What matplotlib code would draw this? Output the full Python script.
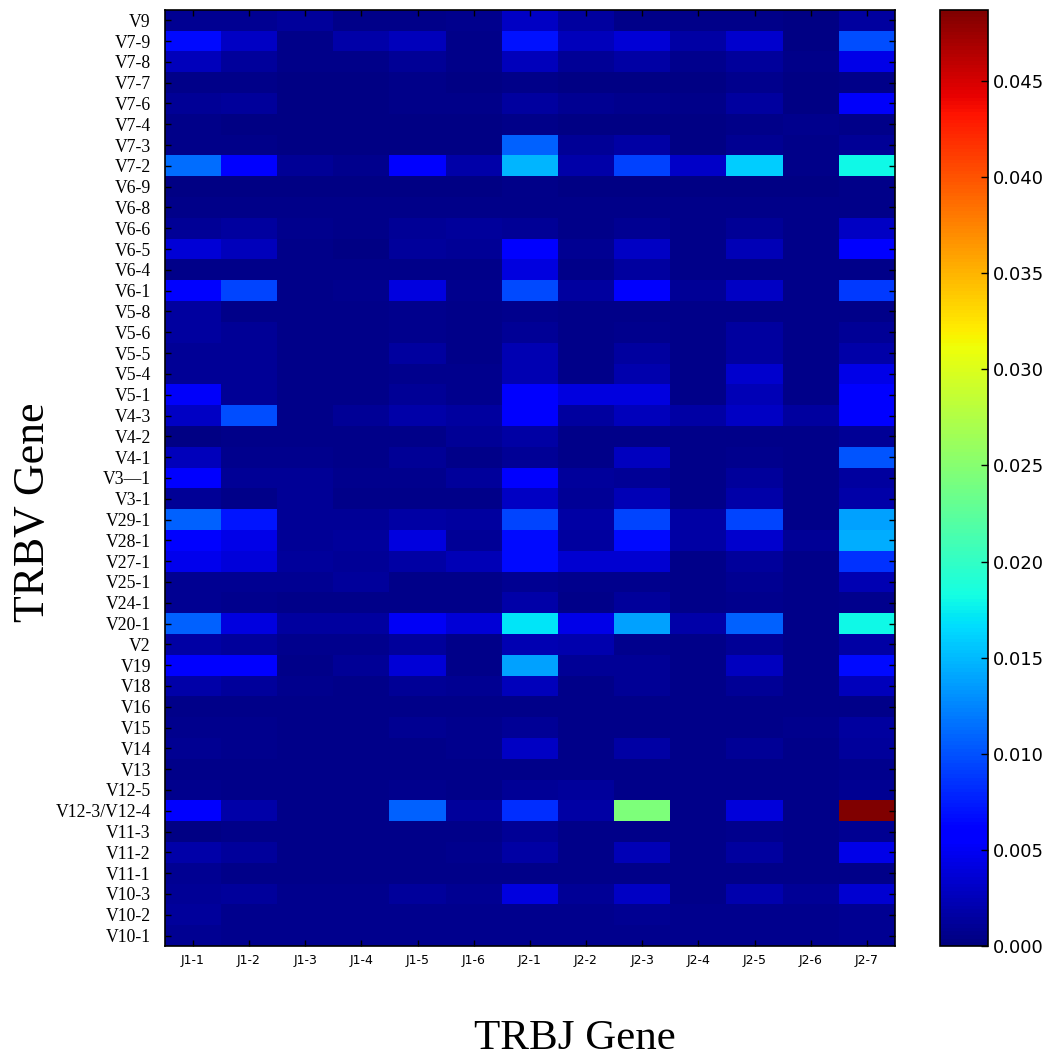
import numpy as np
import matplotlib
matplotlib.use("Agg")
import matplotlib.pyplot as plt

# TRBJ genes (columns) and TRBV genes (rows, top to bottom)
j_genes = ["J1-1", "J1-2", "J1-3", "J1-4", "J1-5", "J1-6",
           "J2-1", "J2-2", "J2-3", "J2-4", "J2-5", "J2-6", "J2-7"]

v_genes = ["V9", "V7-9", "V7-8", "V7-7", "V7-6", "V7-4", "V7-3", "V7-2",
           "V6-9", "V6-8", "V6-6", "V6-5", "V6-4", "V6-1", "V5-8", "V5-6",
           "V5-5", "V5-4", "V5-1", "V4-3", "V4-2", "V4-1", "V3\u20141", "V3-1",
           "V29-1", "V28-1", "V27-1", "V25-1", "V24-1", "V20-1", "V2", "V19",
           "V18", "V16", "V15", "V14", "V13", "V12-5", "V12-3/V12-4", "V11-3",
           "V11-2", "V11-1", "V10-3", "V10-2", "V10-1"]

# pairing frequency, one row per V gene, values
freq = [
    [0.0008, 0.0008, 0.0012, 0.0004, 0.0005, 0.0006, 0.0030, 0.0015, 0.0004, 0.0004, 0.0005, 0.0003, 0.0015],  # V9
    [0.0065, 0.0030, 0.0004, 0.0018, 0.0025, 0.0004, 0.0070, 0.0025, 0.0038, 0.0016, 0.0034, 0.0003, 0.0098],  # V7-9
    [0.0025, 0.0012, 0.0004, 0.0004, 0.0010, 0.0005, 0.0025, 0.0011, 0.0016, 0.0007, 0.0013, 0.0005, 0.0044],  # V7-8
    [0.0004, 0.0004, 0.0003, 0.0003, 0.0004, 0.0003, 0.0004, 0.0003, 0.0003, 0.0003, 0.0007, 0.0003, 0.0005],  # V7-7
    [0.0011, 0.0013, 0.0003, 0.0003, 0.0005, 0.0004, 0.0015, 0.0008, 0.0007, 0.0004, 0.0015, 0.0003, 0.0053],  # V7-6
    [0.0004, 0.0003, 0.0003, 0.0003, 0.0003, 0.0003, 0.0004, 0.0003, 0.0003, 0.0003, 0.0004, 0.0006, 0.0005],  # V7-4
    [0.0005, 0.0005, 0.0003, 0.0003, 0.0003, 0.0003, 0.0107, 0.0011, 0.0017, 0.0003, 0.0008, 0.0004, 0.0011],  # V7-3
    [0.0113, 0.0057, 0.0011, 0.0006, 0.0060, 0.0018, 0.0147, 0.0018, 0.0093, 0.0031, 0.0158, 0.0005, 0.0180],  # V7-2
    [0.0003, 0.0003, 0.0003, 0.0003, 0.0003, 0.0003, 0.0004, 0.0003, 0.0003, 0.0003, 0.0003, 0.0003, 0.0004],  # V6-9
    [0.0004, 0.0004, 0.0004, 0.0004, 0.0005, 0.0005, 0.0004, 0.0004, 0.0004, 0.0004, 0.0004, 0.0004, 0.0005],  # V6-8
    [0.0011, 0.0014, 0.0006, 0.0004, 0.0011, 0.0012, 0.0011, 0.0005, 0.0009, 0.0004, 0.0011, 0.0004, 0.0030],  # V6-6
    [0.0038, 0.0025, 0.0004, 0.0003, 0.0012, 0.0011, 0.0060, 0.0008, 0.0030, 0.0004, 0.0023, 0.0004, 0.0057],  # V6-5
    [0.0004, 0.0004, 0.0004, 0.0004, 0.0004, 0.0004, 0.0040, 0.0005, 0.0015, 0.0004, 0.0005, 0.0004, 0.0005],  # V6-4
    [0.0062, 0.0095, 0.0004, 0.0006, 0.0040, 0.0006, 0.0096, 0.0014, 0.0060, 0.0011, 0.0030, 0.0005, 0.0088],  # V6-1
    [0.0014, 0.0004, 0.0004, 0.0004, 0.0006, 0.0005, 0.0006, 0.0005, 0.0004, 0.0004, 0.0005, 0.0004, 0.0005],  # V5-8
    [0.0015, 0.0010, 0.0004, 0.0004, 0.0006, 0.0005, 0.0011, 0.0004, 0.0007, 0.0004, 0.0014, 0.0004, 0.0011],  # V5-6
    [0.0011, 0.0011, 0.0004, 0.0004, 0.0014, 0.0005, 0.0021, 0.0005, 0.0014, 0.0004, 0.0015, 0.0004, 0.0018],  # V5-5
    [0.0011, 0.0011, 0.0004, 0.0004, 0.0006, 0.0006, 0.0021, 0.0004, 0.0020, 0.0005, 0.0034, 0.0004, 0.0044],  # V5-4
    [0.0052, 0.0011, 0.0004, 0.0004, 0.0011, 0.0006, 0.0058, 0.0040, 0.0040, 0.0005, 0.0023, 0.0005, 0.0060],  # V5-1
    [0.0030, 0.0098, 0.0005, 0.0011, 0.0018, 0.0014, 0.0060, 0.0014, 0.0025, 0.0017, 0.0029, 0.0015, 0.0060],  # V4-3
    [0.0003, 0.0005, 0.0005, 0.0005, 0.0004, 0.0010, 0.0017, 0.0004, 0.0004, 0.0004, 0.0004, 0.0004, 0.0011],  # V4-2
    [0.0025, 0.0006, 0.0006, 0.0004, 0.0011, 0.0005, 0.0011, 0.0004, 0.0028, 0.0004, 0.0006, 0.0005, 0.0102],  # V4-1
    [0.0058, 0.0011, 0.0011, 0.0006, 0.0006, 0.0012, 0.0058, 0.0012, 0.0011, 0.0004, 0.0013, 0.0004, 0.0015],  # V3-1 (dash)
    [0.0011, 0.0005, 0.0010, 0.0005, 0.0005, 0.0005, 0.0030, 0.0011, 0.0023, 0.0004, 0.0019, 0.0004, 0.0019],  # V3-1
    [0.0107, 0.0071, 0.0011, 0.0011, 0.0017, 0.0014, 0.0094, 0.0017, 0.0094, 0.0016, 0.0094, 0.0005, 0.0137],  # V29-1
    [0.0062, 0.0044, 0.0011, 0.0012, 0.0040, 0.0011, 0.0066, 0.0014, 0.0066, 0.0016, 0.0034, 0.0011, 0.0143],  # V28-1
    [0.0046, 0.0039, 0.0013, 0.0011, 0.0017, 0.0023, 0.0066, 0.0036, 0.0036, 0.0005, 0.0012, 0.0005, 0.0084],  # V27-1
    [0.0008, 0.0008, 0.0009, 0.0013, 0.0004, 0.0005, 0.0008, 0.0006, 0.0007, 0.0004, 0.0009, 0.0004, 0.0021],  # V25-1
    [0.0009, 0.0007, 0.0004, 0.0004, 0.0004, 0.0004, 0.0019, 0.0004, 0.0012, 0.0004, 0.0006, 0.0004, 0.0007],  # V24-1
    [0.0107, 0.0041, 0.0014, 0.0014, 0.0050, 0.0038, 0.0170, 0.0044, 0.0137, 0.0018, 0.0107, 0.0005, 0.0180],  # V20-1
    [0.0017, 0.0012, 0.0006, 0.0006, 0.0012, 0.0005, 0.0021, 0.0020, 0.0007, 0.0004, 0.0011, 0.0004, 0.0017],  # V2
    [0.0060, 0.0060, 0.0005, 0.0011, 0.0038, 0.0004, 0.0137, 0.0011, 0.0010, 0.0004, 0.0028, 0.0004, 0.0066],  # V19
    [0.0019, 0.0012, 0.0006, 0.0005, 0.0011, 0.0008, 0.0025, 0.0005, 0.0010, 0.0005, 0.0011, 0.0004, 0.0025],  # V18
    [0.0004, 0.0004, 0.0004, 0.0004, 0.0004, 0.0004, 0.0004, 0.0004, 0.0004, 0.0004, 0.0004, 0.0004, 0.0004],  # V16
    [0.0006, 0.0006, 0.0005, 0.0005, 0.0008, 0.0006, 0.0011, 0.0005, 0.0005, 0.0005, 0.0005, 0.0006, 0.0015],  # V15
    [0.0008, 0.0006, 0.0005, 0.0005, 0.0005, 0.0007, 0.0030, 0.0004, 0.0017, 0.0005, 0.0010, 0.0004, 0.0013],  # V14
    [0.0005, 0.0005, 0.0005, 0.0005, 0.0005, 0.0005, 0.0005, 0.0005, 0.0005, 0.0005, 0.0005, 0.0005, 0.0006],  # V13
    [0.0006, 0.0005, 0.0005, 0.0005, 0.0007, 0.0005, 0.0011, 0.0012, 0.0004, 0.0005, 0.0005, 0.0005, 0.0009],  # V12-5
    [0.0060, 0.0019, 0.0005, 0.0005, 0.0107, 0.0013, 0.0083, 0.0017, 0.0244, 0.0004, 0.0039, 0.0004, 0.0487],  # V12-3/V12-4
    [0.0003, 0.0005, 0.0005, 0.0005, 0.0005, 0.0005, 0.0010, 0.0005, 0.0005, 0.0004, 0.0006, 0.0004, 0.0008],  # V11-3
    [0.0019, 0.0012, 0.0005, 0.0005, 0.0005, 0.0006, 0.0017, 0.0005, 0.0023, 0.0004, 0.0015, 0.0004, 0.0044],  # V11-2
    [0.0008, 0.0005, 0.0005, 0.0005, 0.0005, 0.0005, 0.0005, 0.0005, 0.0005, 0.0004, 0.0005, 0.0004, 0.0005],  # V11-1
    [0.0011, 0.0013, 0.0006, 0.0006, 0.0013, 0.0008, 0.0040, 0.0011, 0.0030, 0.0005, 0.0020, 0.0010, 0.0036],  # V10-3
    [0.0012, 0.0006, 0.0006, 0.0006, 0.0006, 0.0006, 0.0006, 0.0006, 0.0008, 0.0006, 0.0006, 0.0006, 0.0009],  # V10-2
    [0.0008, 0.0006, 0.0006, 0.0006, 0.0006, 0.0006, 0.0006, 0.0006, 0.0006, 0.0006, 0.0006, 0.0006, 0.0009],  # V10-1
]

cbar_ticks = [0.000, 0.005, 0.010, 0.015, 0.020, 0.025, 0.030, 0.035, 0.040, 0.045]

data = np.array(freq)

fig = plt.figure(figsize=(10.56, 10.59), dpi=100)
ax = fig.add_axes([0.156, 0.1067, 0.6915, 0.884])
cax = fig.add_axes([0.890, 0.1067, 0.0455, 0.884])

mesh = ax.pcolormesh(data, cmap="jet", vmin=0, vmax=data.max())
ax.set_xlim(0, len(j_genes))
ax.set_ylim(len(v_genes), 0)

ax.set_xticks(np.arange(len(j_genes)) + 0.5)
ax.set_xticklabels(j_genes, fontsize=9, family="DejaVu Sans")
ax.set_yticks(np.arange(len(v_genes)) + 0.5)
ax.set_yticklabels(v_genes, fontsize=12.7, family="Liberation Serif")
ax.tick_params(direction="in", top=True, right=True, length=4, width=1)
ax.tick_params(axis="y", pad=10)
ax.tick_params(axis="x", pad=6)
for spine in ax.spines.values():
    spine.set_linewidth(1.2)

fig.text(0.031, 0.5165, "TRBV Gene", rotation=90, ha="center", va="center",
         fontsize=31.5, family="Liberation Serif")
fig.text(0.5445, 0.019, "TRBJ Gene", ha="center", va="center",
         fontsize=31, family="Liberation Serif")

cbar = fig.colorbar(mesh, cax=cax, ticks=cbar_ticks)
cbar.ax.set_yticklabels([f"{t:.3f}" for t in cbar_ticks])
cbar.ax.tick_params(direction="in", labelsize=13, length=5, width=1)
cbar.outline.set_linewidth(1.2)

fig.savefig("out.png", dpi=100, facecolor="white")
